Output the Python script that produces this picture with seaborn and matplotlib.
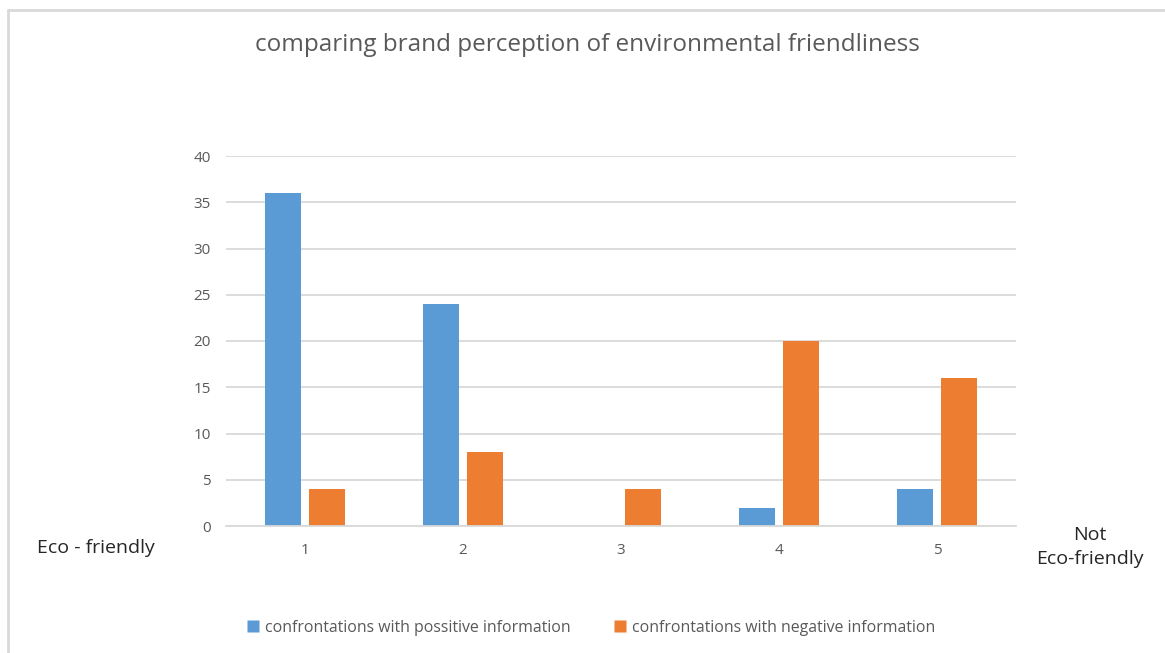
import matplotlib
matplotlib.use("Agg")
import matplotlib.pyplot as plt
from matplotlib.lines import Line2D
import seaborn as sns
import pandas as pd

# Rating scale (1 = eco-friendly ... 5 = not eco-friendly)
ratings = ["1", "2", "3", "4", "5"]
positive_info = [36, 24, 0, 2, 4]
negative_info = [4, 8, 4, 20, 16]
series_names = ["confrontations with possitive information",
                "confrontations with negative information"]
yticks = [0, 5, 10, 15, 20, 25, 30, 35, 40]

df = pd.DataFrame({
    "rating": ratings * 2,
    "count": positive_info + negative_info,
    "series": [series_names[0]] * len(ratings) + [series_names[1]] * len(ratings),
})

sns.set_theme(style="white")
plt.rcParams["font.family"] = ["Open Sans", "DejaVu Sans"]

TXT = "#595959"
GRID = "#D9D9D9"
palette = {series_names[0]: "#5B9BD5", series_names[1]: "#ED7D31"}

fig = plt.figure(figsize=(11.65, 6.53), dpi=100)
ax = fig.add_axes([226 / 1165, 1 - 526 / 653, 790 / 1165, 370 / 653])

sns.barplot(data=df, x="rating", y="count", hue="series", order=ratings,
            hue_order=series_names, palette=palette, width=0.56, gap=0.2,
            saturation=1, ax=ax, legend=False, edgecolor="none")

ax.set_ylim(0, 40)
ax.set_xlim(-0.5, 4.5)
ax.set_yticks(yticks)
ax.set_yticklabels([str(v) for v in yticks])
ax.yaxis.grid(True, color=GRID, linewidth=1.3)
ax.set_axisbelow(True)
for side in ["top", "right", "left"]:
    ax.spines[side].set_visible(False)
ax.spines["bottom"].set_color(GRID)
ax.spines["bottom"].set_linewidth(1.3)
ax.tick_params(axis="both", length=0, colors=TXT, labelsize=11)
ax.tick_params(axis="y", pad=11)
ax.tick_params(axis="x", pad=12)
ax.set_xlabel("")
ax.set_ylabel("")

fig.text(587 / 1165, 1 - 45 / 653, "comparing brand perception of environmental friendliness",
         ha="center", va="center", fontsize=17.5, color=TXT)

fig.text(37 / 1165, 1 - 548 / 653, "Eco - friendly", ha="left", va="center",
         fontsize=14, color="#262626")
fig.text(1090 / 1165, 1 - 547 / 653, "Not\nEco-friendly", ha="center", va="center",
         fontsize=14, color="#262626", linespacing=1.45)

# Legend
handles = [Line2D([0], [0], marker="s", linestyle="none", markersize=8,
                  markerfacecolor=palette[s], markeredgecolor="none") for s in series_names]
fig.legend(handles, series_names, loc="center", bbox_to_anchor=(590 / 1165, 1 - 628 / 653),
           ncol=2, frameon=False, fontsize=11.4, labelcolor=TXT, handletextpad=0.25,
           columnspacing=2.6, handlelength=1.0)

# Chart area border
fig.add_artist(Line2D([8 / 1165, 1], [1 - 10 / 653, 1 - 10 / 653], color=GRID, lw=2,
                      transform=fig.transFigure))
fig.add_artist(Line2D([8 / 1165, 8 / 1165], [0, 1 - 10 / 653], color=GRID, lw=2,
                      transform=fig.transFigure))

fig.savefig("out.png", dpi=100)
